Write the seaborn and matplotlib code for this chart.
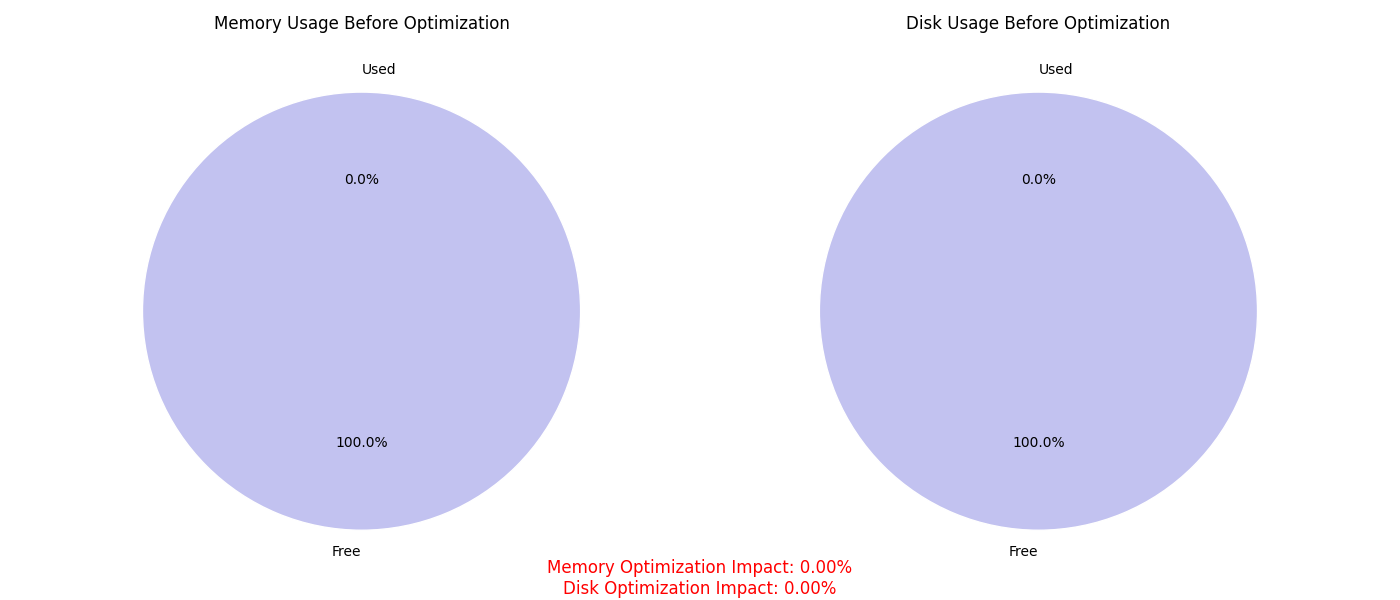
import numpy as np
import matplotlib
matplotlib.use('Agg')
import matplotlib.pyplot as plt
import seaborn as sns

sns.set_style('white', rc={'text.color': 'black', 'axes.labelcolor': 'black'})

labels = ['Used', 'Free']
memory_before = [0.0, 100.0]
disk_before = [0.0, 100.0]
memory_impact = 0.00
disk_impact = 0.00
pie_colors = ['#c2c2f0', '#c2c2f0']

fig, axes = plt.subplots(1, 2, figsize=(14, 6))

for ax, vals, title in zip(axes, [memory_before, disk_before],
                           ['Memory Usage Before Optimization', 'Disk Usage Before Optimization']):
    wedges, texts, autotexts = ax.pie(vals, labels=labels, colors=pie_colors,
                                      autopct='%1.1f%%', startangle=90)
    # used label sits right of the top, free label left of the bottom
    texts[0].set_ha('left')
    texts[1].set_ha('right')
    ax.set_title(title, color='black')

plt.tight_layout()
fig.text(0.5, 0.01,
         f'Memory Optimization Impact: {memory_impact:.2f}%\nDisk Optimization Impact: {disk_impact:.2f}%',
         ha='center', fontsize=12, color='red')
plt.savefig('out.png', dpi=100)
